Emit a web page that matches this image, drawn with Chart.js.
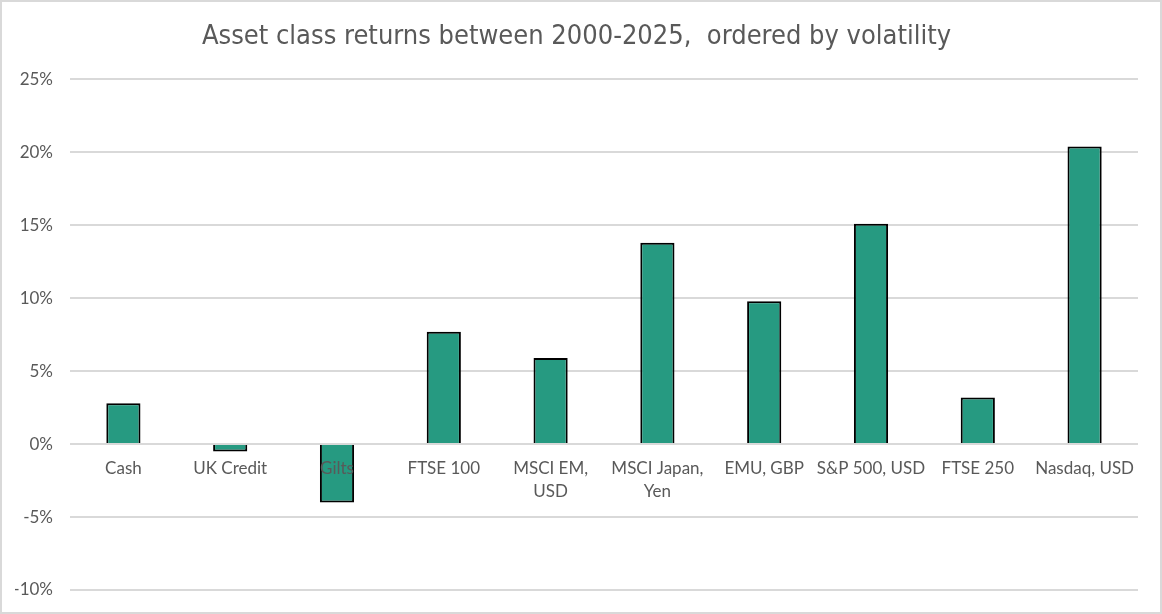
<!DOCTYPE html>
<html>
<head>
<meta charset="utf-8">
<script src="https://cdn.jsdelivr.net/npm/chart.js@4"></script>
<style>
  html, body { margin: 0; padding: 0; background: #fff; }
  #wrap { width: 1162px; height: 614px; box-sizing: border-box; border: 2px solid #d9d9d9; }
</style>
</head>
<body>
<div id="wrap"><canvas id="chart" width="1158" height="610"></canvas></div>
<script>
// asset classes, ordered by volatility
const categories = ['Cash', 'UK Credit', 'Gilts', 'FTSE 100', ['MSCI EM,', 'USD'], ['MSCI Japan,', 'Yen'],
    'EMU, GBP', 'S&P 500, USD', 'FTSE 250', 'Nasdaq, USD'];
// annual returns, %
const returns = [2.8, -0.5, -4.0, 7.7, 5.9, 13.8, 9.8, 15.1, 3.2, 20.4];
const yTicks = [-10, -5, 0, 5, 10, 15, 20, 25];

const grey = '#595959';

const ctx = document.getElementById('chart').getContext('2d');
new Chart(ctx, {
    type: 'bar',
    data: {
        labels: categories,
        datasets: [{
            data: returns,
            backgroundColor: '#269a81',
            borderColor: '#000',
            borderWidth: 2,
            barPercentage: 0.32,
            categoryPercentage: 1
        }]
    },
    options: {
        responsive: false,
        animation: false,
        layout: { padding: { left: 13, right: 22, top: 0, bottom: 22 } },
        plugins: {
            legend: { display: false },
            tooltip: { enabled: false },
            title: {
                display: true,
                text: 'Asset class returns between 2000-2025,  ordered by volatility',
                color: grey,
                font: { family: '"DejaVu Sans Condensed", "Liberation Sans", sans-serif', size: 27, weight: 'normal' },
                padding: { top: 19, bottom: 26 }
            }
        },
        scales: {
            x: {
                position: { y: 0 },
                grid: { display: false, drawTicks: false },
                border: { display: false },
                ticks: {
                    z: 1, // labels sit on top of the bars, like "Gilts"
                    color: grey,
                    font: { family: 'Lato', size: 17, lineHeight: 1.35 },
                    padding: 13,
                    maxRotation: 0,
                    autoSkip: false
                }
            },
            y: {
                min: yTicks[0],
                max: yTicks[yTicks.length - 1],
                afterBuildTicks: (axis) => { axis.ticks = yTicks.map(v => ({ value: v })); },
                afterFit: (axis) => {
                    axis.width = 55;
                    axis.paddingBottom = 0; // let layout padding decide the bottom gap
                },
                grid: { color: '#d9d9d9', lineWidth: 2, drawTicks: false },
                border: { display: false },
                ticks: {
                    color: grey,
                    font: { family: 'Lato', size: 17 },
                    padding: 17,
                    callback: (v) => v + '%'
                }
            }
        }
    }
});
</script>
</body>
</html>
